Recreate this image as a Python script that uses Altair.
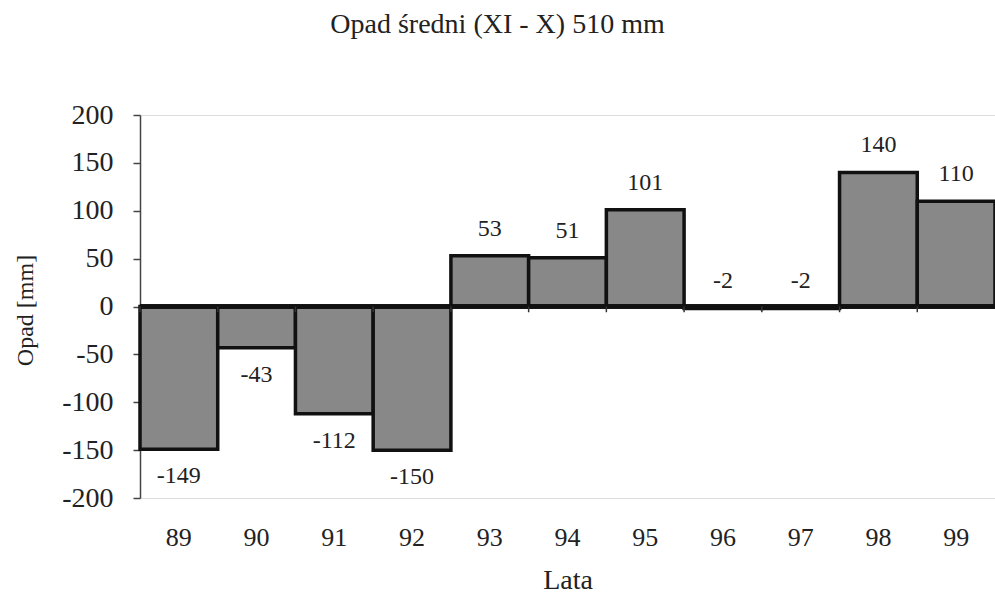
import altair as alt
import pandas as pd

years = ["89", "90", "91", "92", "93", "94", "95", "96", "97", "98", "99"]
values = [-149, -43, -112, -150, 53, 51, 101, -2, -2, 140, 110]
y_ticks = [-200, -150, -100, -50, 0, 50, 100, 150, 200]

df = pd.DataFrame({"rok": years, "opad": values})

FONT = "Liberation Serif"

x_enc = alt.X(
    "rok:O",
    sort=years,
    scale=alt.Scale(paddingInner=0, paddingOuter=0),
    axis=alt.Axis(
        title="Lata",
        labelAngle=0,
        ticks=False,
        domain=False,
        labelPadding=26,
        labelFontSize=26,
        labelFont=FONT,
        labelColor="#222",
        titleFont=FONT,
        titleFontSize=28,
        titleFontWeight="normal",
        titleColor="#222",
        titlePadding=16,
    ),
)
y_scale = alt.Scale(domain=[-200, 200], nice=False)

bars = alt.Chart(df).mark_bar(
    color="#888888", stroke="#111", strokeWidth=3.5
).encode(
    x=x_enc,
    y=alt.Y(
        "opad:Q",
        scale=y_scale,
        axis=alt.Axis(
            title="Opad [mm]",
            values=y_ticks,
            grid=False,
            tickSize=7,
            tickColor="#444",
            domainColor="#444",
            domainWidth=1.5,
            tickWidth=1.5,
            labelPadding=20,
            labelFontSize=28,
            labelFont=FONT,
            labelColor="#222",
            labelExpr="toString(datum.value)",
            titleFont=FONT,
            titleFontSize=24,
            titleFontWeight="normal",
            titleColor="#222",
            titleBaseline="middle",
            titleX=-115,
            titleY=195,
        ),
    ),
    y2=alt.datum(0),
)

zero_line = alt.Chart(df).mark_rule(color="#111", strokeWidth=3.5).encode(
    y=alt.datum(0)
)

boundary_ticks = alt.Chart(df).mark_rule(color="#333", strokeWidth=1.5).encode(
    x=alt.X("rok:O", sort=years, bandPosition=0),
    y=alt.datum(0),
    y2=alt.datum(-6),
)

lab_neg = alt.Chart(df).transform_filter("datum.opad < -10").transform_calculate(
    lbl="toString(datum.opad)"
).mark_text(
    font=FONT, fontSize=24, color="#222", baseline="middle", dy=27
).encode(
    x=alt.X("rok:O", sort=years),
    y=alt.Y("opad:Q", scale=y_scale),
    text="lbl:N",
)

lab_pos = alt.Chart(df).transform_filter("datum.opad >= -10").transform_calculate(
    lbl="toString(datum.opad)"
).mark_text(
    font=FONT, fontSize=24, color="#222", baseline="middle", dy=-27
).encode(
    x=alt.X("rok:O", sort=years),
    y=alt.Y("opad:Q", scale=y_scale),
    text="lbl:N",
)

chart = alt.layer(bars, zero_line, boundary_ticks, lab_neg, lab_pos).properties(
    width=855,
    height=383,
    padding={"left": 140, "top": 115, "right": 0, "bottom": 95},
    autosize=alt.AutoSizeParams(type="none"),
    title=alt.TitleParams(
        "Opad średni (XI - X) 510 mm",
        font=FONT,
        fontSize=28,
        fontWeight="normal",
        color="#222",
        offset=62,
        dx=-70,
    ),
).configure_view(stroke=None).configure(background="white")

chart.save("out.html", embed_options={"renderer": "svg", "actions": False})
